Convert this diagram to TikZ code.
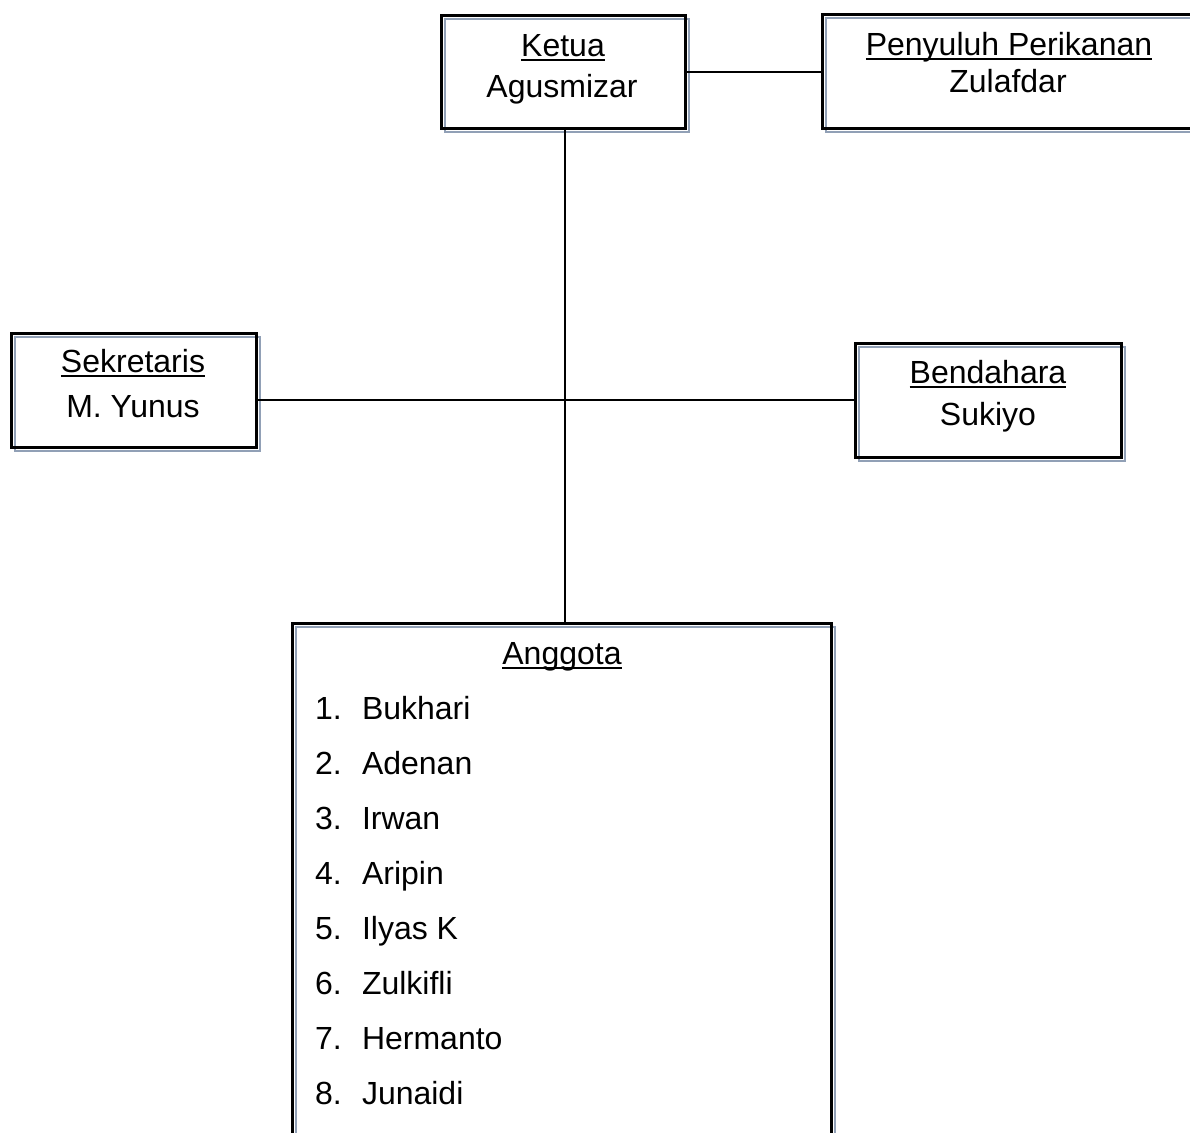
\documentclass[tikz,border=0pt]{standalone}
\usepackage{fontspec}
\setmainfont{Liberation Sans}
\newlength\ulw
\newcommand\myul[1]{\settowidth\ulw{#1}\rlap{\rule[-5bp]{\ulw}{2.5bp}}#1}
\newcommand\bigf{\fontsize{32bp}{38bp}\selectfont}
\definecolor{shadowc}{RGB}{145,160,182}
\begin{document}
\begin{tikzpicture}[x=1bp,y=-1bp,
  box/.style={draw=black,line width=3bp,rectangle,outer sep=0pt,inner sep=0pt},
  shadowline/.style={draw=shadowc,line width=2bp},
  conn/.style={draw=black,line width=2bp},
  txt/.style={font=\bigf,inner sep=0pt,outer sep=0pt}]
\useasboundingbox (0,0) rectangle (1190,1133);
\clip (0,0) rectangle (1190,1133);
% boxes
\node[box,minimum width=244bp,minimum height=113bp] (k) at (563,71.5) {};
\node[box,minimum width=374bp,minimum height=114bp] (p) at (1009,71) {};
\node[box,minimum width=244bp,minimum height=114bp] (s) at (134,390) {};
\node[box,minimum width=266bp,minimum height=114bp] (b) at (988,400) {};
\node[box,minimum width=538bp,minimum height=537bp] (a) at (562,891.5) {};
% shadows
\foreach \n in {k,p,s,b,a}{
  \draw[shadowline] ([shift={(3.5,4)}]\n.north west) rectangle ([shift={(3.5,4)}]\n.south east);
}
% redraw box borders on top
\foreach \n in {k,p,s,b,a}{
  \draw[black,line width=3bp] (\n.north west) rectangle (\n.south east);
}
% connectors
\coordinate (mid) at (565,400);
\draw[conn] (k.east) -- (k.east -| p.west);
\draw[conn] (mid |- k.south) -- (mid |- a.north);
\draw[conn] (mid -| s.east) -- (mid -| b.west);
% texts
\node[txt,anchor=base] (kt) at (563,56) {\myul{Ketua}};
\node[txt,anchor=base] (kn) at (562,97) {Agusmizar};
\node[txt,anchor=base] (pt) at (1009,55) {\myul{Penyuluh Perikanan}};
\node[txt,anchor=base] (pn) at (1008,92) {Zulafdar};
\node[txt,anchor=base] (st) at (133,372) {\myul{Sekretaris}};
\node[txt,anchor=base] (sn) at (133,417) {M. Yunus};
\node[txt,anchor=base] (bt) at (988,383) {\myul{Bendahara}};
\node[txt,anchor=base] (bn) at (988,425) {Sukiyo};
\node[txt,anchor=base] (at) at (562,664) {\myul{Anggota}};
\foreach \i/\nm in {1/Bukhari,2/Adenan,3/Irwan,4/Aripin,5/Ilyas K,6/Zulkifli,7/Hermanto,8/Junaidi}{
  \node[txt,anchor=base west] (num\i) at (315,{719+55*(\i-1)}) {\i.};
  \node[txt,anchor=base west] (nm\i) at (362,{719+55*(\i-1)}) {\nm};
}
\end{tikzpicture}
\end{document}
